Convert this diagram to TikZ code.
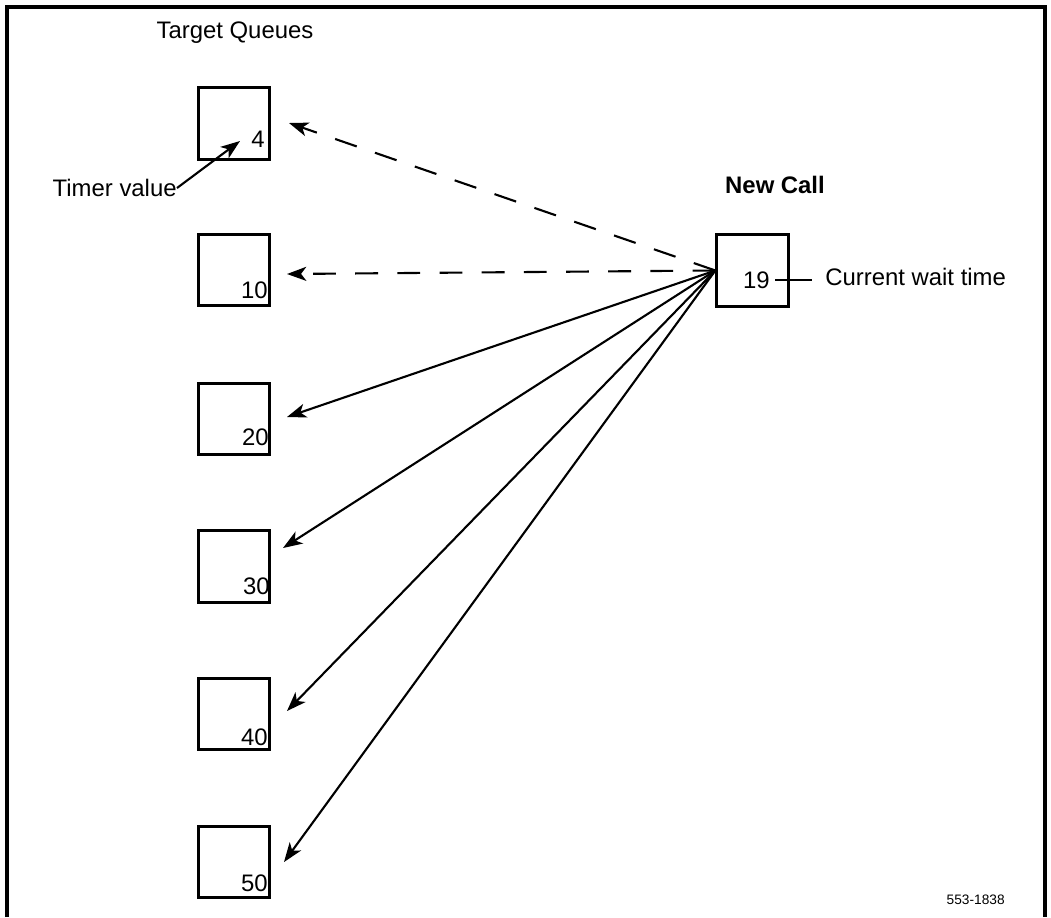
\documentclass[tikz,border=0pt]{standalone}
\usepackage{fontspec}
\setmainfont{Liberation Sans}
\usetikzlibrary{arrows.meta}
\tikzstyle{queueBox}=[shape = rectangle, minimum size = 1.43cm, inner sep = 0pt, line width = 1.6pt, draw]
\tikzstyle{timerLabel}=[anchor = base east, inner sep = 0pt, font = \fontsize{13.6}{16}\selectfont]

\begin{document}
\begin{tikzpicture}[x = 0.02cm, y = -0.02cm]
\tikzstyle{textStyle}=[inner sep = 0pt, font = \fontsize{13.6}{16}\selectfont]
\tikzstyle{callArrow}=[line width = 1.2pt, -{Stealth[length = 11pt, width = 8pt, inset = 3pt]}]
\tikzstyle{hopArrow}=[callArrow, dash pattern = on 13pt off 11pt]
\useasboundingbox (0,0) rectangle (1051,917);
\draw[line width = 1.8pt] (7,917) -- (7,7) -- (1045,7) -- (1045,917);
\node[queueBox] (v0) at (234,123.5) {};
\node[queueBox] (v1) at (234,270) {};
\node[queueBox] (v2) at (234,419) {};
\node[queueBox] (v3) at (234,566.5) {};
\node[queueBox] (v4) at (234,714) {};
\node[queueBox] (v5) at (234,862) {};
\node[queueBox] (v6) at (752.5,270.5) {};
\node[timerLabel] (n0) at (265,147) {4};
\node[timerLabel] (n1) at (268,298) {10};
\node[timerLabel] (n2) at (269,445) {20};
\node[timerLabel] (n3) at (270,594) {30};
\node[timerLabel] (n4) at (268,745) {40};
\node[timerLabel] (n5) at (268,891) {50};
\node[timerLabel] (n6) at (770,288) {19};
\node[textStyle] (tq) at (235,33) {Target Queues};
\node[textStyle, font = \fontsize{13.6}{16}\selectfont\bfseries] (nc) at (775,185) {New Call};
\node[textStyle, anchor = west] (cw) at (825,277) {Current wait time};
\node[textStyle, anchor = east] (tv) at (177,188) {Timer value};
\node[inner sep = 0pt, anchor = east, font = \fontsize{7.8}{9}\selectfont] (fig) at (1005,900) {553-1838};
\coordinate (e0) at (289,123);
\coordinate (e1) at (287,274);
\coordinate (e2) at (287,417);
\coordinate (e3) at (283,548);
\coordinate (e4) at (287,711);
\coordinate (e5) at (284,862);
\coordinate (t0) at (240,141);
\coordinate (w0) at (775,280);
\coordinate (w1) at (812,280);
\draw[hopArrow] (v6.west) -- (e0);
\draw[hopArrow] (v6.west) -- (e1);
\draw[callArrow] (v6.west) -- (e2);
\draw[callArrow] (v6.west) -- (e3);
\draw[callArrow] (v6.west) -- (e4);
\draw[callArrow] (v6.west) -- (e5);
\draw[callArrow] (tv.east) -- (t0);
\draw[line width = 1.2pt] (w0) -- (w1);
%
\end{tikzpicture}
\end{document}
